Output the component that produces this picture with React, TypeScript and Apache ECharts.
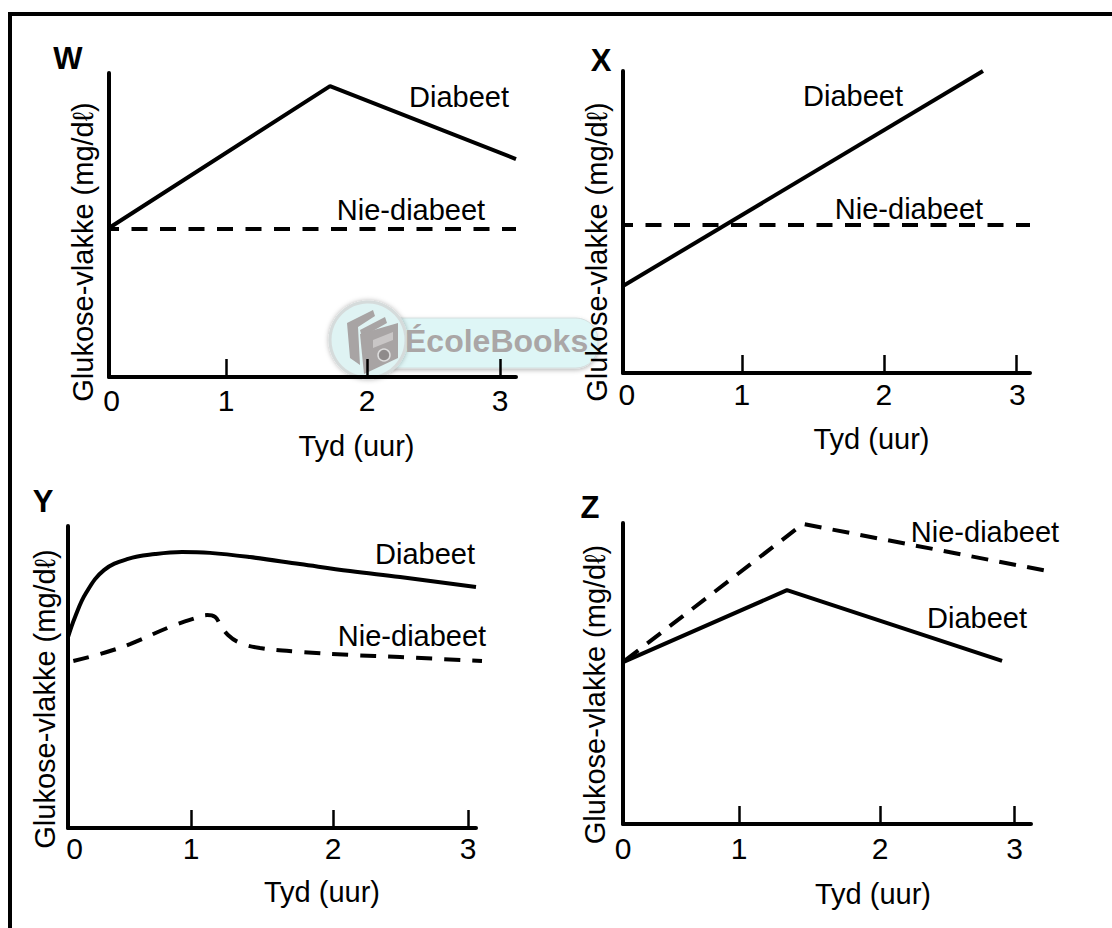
import React, { useEffect, useRef } from "react";
import * as echarts from "echarts";

const FONT = "Liberation Sans";
const tickLabels = ["0", "1", "2", "3"];
const yName = "Glukose-vlakke (mg/dℓ)";
const xName = "Tyd (uur)";

// W
const wDiabeetX = [0, 1.696, 3.123];
const wDiabeetY = [49, 95.7, 71.7];
const wNieX = [0, 3.123];
const wNieY = [48.7, 48.7];
const wTicks = [0.898, 1.98, 3];
const wLabelAt = [0.02, 0.898, 1.98, 3];
// X
const xDiabeetX = [0, 2.748];
const xDiabeetY = [28.8, 100];
const xNieX = [0, 3.107];
const xNieY = [49, 49];
const xTicks = [0.908, 1.992, 3];
const xLabelAt = [0.03, 0.908, 1.992, 3.01];
// Y
const yDiabeetX = [0, 0.053, 0.135, 0.27, 0.45, 0.653, 0.855, 1.065, 1.365, 1.74, 2.115, 2.49, 3.06];
const yDiabeetY = [63.2, 69.9, 77.8, 85.4, 89.1, 90.7, 91.4, 91.1, 89.7, 87.4, 85.1, 83.1, 79.8];
const yNieX = [0.04, 0.24, 0.465, 0.765, 0.953, 1.043, 1.103, 1.14, 1.2, 1.29, 1.44, 1.74, 2.115, 2.49, 3.105];
const yNieY = [55.3, 57.6, 60.9, 66.6, 69.5, 70.5, 69.9, 67.5, 63.9, 61.3, 59.6, 58.3, 57.3, 56.6, 55.3];
const yTicks = [0.923, 1.988, 3];
const yLabelAt = [0.05, 0.923, 1.988, 3];
// Z
const zDiabeetX = [0, 1.258, 2.908];
const zDiabeetY = [53.8, 77.7, 54.2];
const zNieX = [0, 1.381, 3.25];
const zNieY = [53.8, 99.7, 84.1];
const zTicks = [0.89, 1.972, 3];
const zLabelAt = [0, 0.89, 1.972, 3.005];

const zip = (a: number[], b: number[]) => a.map((v, i) => [v, b[i]]);

const panels = [
  { left: 109, right: 516, top: 73, bottom: 377, max: 3.123, ticks: wTicks, at: wLabelAt, d: zip(wDiabeetX, wDiabeetY), n: zip(wNieX, wNieY), xShift: 44, yShift: 27, yGap: 12, xGap: 54, margin: 8, dash: [16, 12.5], off: 6, smooth: false },
  { left: 623, right: 1030, top: 71, bottom: 373, max: 3.107, ticks: xTicks, at: xLabelAt, d: zip(xDiabeetX, xDiabeetY), n: zip(xNieX, xNieY), xShift: 45, yShift: 30, yGap: 12, xGap: 51, margin: 6, dash: [16, 12.5], off: 6, smooth: false },
  { left: 68, right: 476, top: 526, bottom: 828, max: 3.06, ticks: yTicks, at: yLabelAt, d: zip(yDiabeetX, yDiabeetY), n: zip(yNieX, yNieY), xShift: 50, yShift: 22, yGap: 9, xGap: 49, margin: 5, dash: [16, 12], off: 0, smooth: true },
  { left: 623, right: 1031, top: 523, bottom: 824, max: 3.13, ticks: zTicks, at: zLabelAt, d: zip(zDiabeetX, zDiabeetY), n: zip(zNieX, zNieY), xShift: 46, yShift: 21, yGap: 14, xGap: 55, margin: 9, dash: [17, 11.3], off: 26.3, smooth: false },
];

const texts = [
  { t: "W", x: 68, y: 58, bold: true },
  { t: "X", x: 601, y: 60, bold: true },
  { t: "Y", x: 43, y: 501, bold: true },
  { t: "Z", x: 590, y: 507, bold: true },
  { t: "Diabeet", x: 459, y: 97 },
  { t: "Nie-diabeet", x: 411, y: 210 },
  { t: "Diabeet", x: 853, y: 96 },
  { t: "Nie-diabeet", x: 909, y: 209 },
  { t: "Diabeet", x: 425, y: 554 },
  { t: "Nie-diabeet", x: 412, y: 636 },
  { t: "Nie-diabeet", x: 985, y: 532 },
  { t: "Diabeet", x: 977, y: 618 },
];

const FS = 29;
// lines may run a little past the end of the drawn axis: they sit on a hidden, wider grid
const OVER = 30;

export default function App() {
  const ref = useRef<HTMLDivElement>(null);
  useEffect(() => {
    const chart = echarts.init(ref.current!, undefined, { renderer: "svg" });
    const n = panels.length;
    const grid = [
      ...panels.map((p) => ({ left: p.left, top: p.top, width: p.right - p.left, height: p.bottom - p.top })),
      ...panels.map((p) => ({ left: p.left, top: p.top, width: p.right - p.left + OVER, height: p.bottom - p.top })),
    ];
    const xAxis: any[] = [
      ...panels.map((p, i) => ({
        type: "value", gridIndex: i, min: 0, max: p.max, splitLine: { show: false },
        name: xName, nameLocation: "middle", nameGap: p.xGap,
        nameTextStyle: { fontFamily: FONT, fontSize: FS, color: "#000", padding: [0, 0, 0, p.xShift * 2] },
        axisLine: { show: true, onZero: false, lineStyle: { color: "#000", width: 4 } },
        axisTick: { show: true, inside: true, length: 18, customValues: p.ticks, lineStyle: { color: "#000", width: 2.5 } },
        axisLabel: { show: true, margin: p.margin, customValues: p.at, fontFamily: FONT, fontSize: 30, color: "#000", formatter: (v: number) => tickLabels[p.at.indexOf(v)] },
      })),
      ...panels.map((p, i) => ({
        type: "value", gridIndex: n + i, show: false, min: 0, max: (p.max * (p.right - p.left + OVER)) / (p.right - p.left), splitLine: { show: false },
      })),
    ];
    const yAxis: any[] = [
      ...panels.map((p, i) => ({
        type: "value", gridIndex: i, min: 0, max: 100, splitLine: { show: false },
        name: yName, nameLocation: "middle", nameGap: p.yGap,
        nameTextStyle: { fontFamily: FONT, fontSize: FS, color: "#000", padding: [0, p.yShift * 2, 0, 0] },
        axisLine: { show: true, onZero: false, lineStyle: { color: "#000", width: 4 } },
        axisTick: { show: false }, axisLabel: { show: false },
      })),
      ...panels.map((_, i) => ({ type: "value", gridIndex: n + i, show: false, min: 0, max: 100, splitLine: { show: false } })),
    ];
    const series: any[] = [];
    panels.forEach((p, i) => {
      const sm = { smooth: p.smooth ? 0.4 : false };
      series.push({ type: "line", name: "Diabeet", xAxisIndex: n + i, yAxisIndex: n + i, data: p.d, showSymbol: false, clip: false, ...sm, lineStyle: { color: "#000", width: 4, cap: "butt" } });
      series.push({ type: "line", name: "Nie-diabeet", xAxisIndex: n + i, yAxisIndex: n + i, data: p.n, showSymbol: false, clip: false, ...sm, lineStyle: { color: "#000", width: 4, type: p.dash, dashOffset: p.off, cap: "butt" } });
    });
    const G = "#a8a4a4";
    const graphic: any[] = [
      { type: "polyline", shape: { points: [[10, 1000], [10, 14], [1200, 14]] }, style: { fill: "none", stroke: "#000", lineWidth: 4 }, z: -20 },
      // watermark
      { type: "rect", shape: { x: 365, y: 318, width: 233, height: 50, r: 22 }, style: { fill: "#def6f6", stroke: "#d4dede", lineWidth: 1, shadowBlur: 4, shadowColor: "rgba(0,0,0,0.25)", shadowOffsetY: 2 }, z: -12 },
      { type: "circle", shape: { cx: 368, cy: 340, r: 38 }, style: { fill: "#dff3f3", stroke: "#d5dbdb", lineWidth: 3, shadowBlur: 5, shadowColor: "rgba(0,0,0,0.3)" }, z: -11 },
      { type: "polygon", shape: { points: [[347, 323], [373, 310], [375, 316], [358, 327], [360, 365], [350, 358]] }, style: { fill: G }, z: -10 },
      { type: "polygon", shape: { points: [[360, 330], [385, 317], [387, 323], [362, 337]] }, style: { fill: G }, z: -10 },
      { type: "polygon", shape: { points: [[360, 334], [398, 323], [398, 358], [364, 374]] }, style: { fill: G }, z: -9 },
      { type: "polygon", shape: { points: [[373, 340], [393, 332], [393, 340], [373, 348]] }, style: { fill: "#c9c6c6" }, z: -8 },
      { type: "circle", shape: { cx: 384, cy: 355, r: 6 }, style: { fill: "#8f8b8b", stroke: "#dcdcdc", lineWidth: 1.5 }, z: -8 },
      { type: "text", style: { text: "ÉcoleBooks", x: 405, y: 341, fill: "#aaa6a6", font: `bold 32px "${FONT}"`, textAlign: "left", textVerticalAlign: "middle" }, z: -8 },
      ...texts.map((t) => ({
        type: "text",
        style: { text: t.t, x: t.x, y: t.y, fill: "#000", font: `${t.bold ? "bold 31" : FS}px "${FONT}"`, textAlign: "center", textVerticalAlign: "middle" },
        z: 5,
      })),
    ];
    chart.setOption({ animation: false, backgroundColor: "#fff", grid, xAxis, yAxis, series, graphic });
    return () => chart.dispose();
  }, []);
  return <div ref={ref} style={{ position: "absolute", left: 0, top: 0, width: 1112, height: 928 }} />;
}
